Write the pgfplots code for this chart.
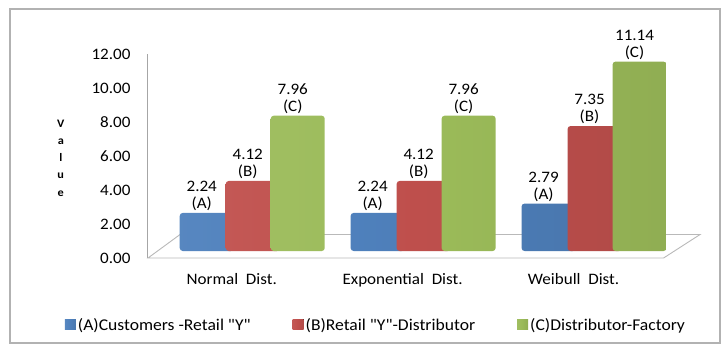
\documentclass[border=0pt]{standalone}
\usepackage{pgfplots}
\pgfplotsset{compat=1.18}
\usepackage{fontspec}
\setmainfont{Carlito}[FakeStretch=1.07, Ligatures=TeXOff]
\definecolor{cA}{HTML}{4F81BD}
\definecolor{cB}{HTML}{C0504D}
\definecolor{cC}{HTML}{9BBB59}
\pgfdeclarehorizontalshading{shA}{100bp}{color(0bp)=(cA!90!white); color(45bp)=(cA); color(78bp)=(cA!92!black); color(80bp)=(cA!58!black); color(100bp)=(cA!58!black)}
\pgfdeclarehorizontalshading{shB}{100bp}{color(0bp)=(cB!90!white); color(45bp)=(cB); color(78bp)=(cB!92!black); color(80bp)=(cB!58!black); color(100bp)=(cB!58!black)}
\pgfdeclarehorizontalshading{shC}{100bp}{color(0bp)=(cC!90!white); color(45bp)=(cC); color(78bp)=(cC!92!black); color(80bp)=(cC!55!black); color(100bp)=(cC!55!black)}
\begin{document}
\begin{tikzpicture}[x=1bp,y=1bp]
\begin{axis}[
  name=ax,
  scale only axis, width=552bp, height=204bp,
  ymin=0, ymax=12, ytick={0,2,...,12},
  xmin=-0.49, xmax=2.74, xtick={0,1,2},
  xticklabels={Normal\ \ Dist., Exponential\ \ Dist., Weibull\ \ Dist.},
  axis x line*=bottom, axis y line*=left,
  axis line style={gray!70, line width=1bp},
  x axis line style={draw=none},
  major tick length=0pt,
  yticklabel style={/pgf/number format/.cd, fixed, fixed zerofill, precision=2, /tikz/.cd, xshift=-14bp},
  /pgf/number format/assume math mode=true,
  xticklabel style={yshift=-12bp},
  ticklabel style={font=\fontsize{16}{18}\selectfont},
  ylabel={V\\a\\l\\u\\e},
  ylabel style={rotate=-90, align=center, font=\bfseries\fontsize{11.5}{17.3}\selectfont, at={(axis description cs:-0.158,0.49)}, anchor=center},
  ybar=0pt, bar width=54bp,
  nodes near coords style={align=center, font=\fontsize{16}{17}\selectfont, text=black, inner sep=2bp, xshift=-5bp},
  legend style={draw=none, at={(0.413,-0.33)}, anchor=center, legend columns=3,
    font=\fontsize{16.5}{18}\selectfont, /tikz/every even column/.append style={column sep=40bp}},
  legend image code/.code={\fill[#1, sharp corners, yshift=-7bp] (0bp,-4bp) rectangle (11bp,6bp);},
  clip=false,
]
\draw[gray!55, line width=0.9bp, fill=white] (rel axis cs:0,0) -- (rel axis cs:0.934,0) -- (rel axis cs:1.0,0.115) -- (rel axis cs:0.058,0.115) -- cycle;
\addplot[shading=shA, draw=none, rounded corners=3bp, bar shift=-25bp, yshift=7bp,
  nodes near coords={\pgfmathprintnumber[fixed,fixed zerofill,precision=2]{\pgfplotspointmeta}\\(A)}]
  coordinates {(0,2.24) (1,2.24) (2,2.79)};
\addplot[shading=shB, draw=none, rounded corners=3bp, bar shift=21bp, yshift=7bp,
  nodes near coords={\pgfmathprintnumber[fixed,fixed zerofill,precision=2]{\pgfplotspointmeta}\\(B)}]
  coordinates {(0,4.12) (1,4.12) (2,7.35)};
\addplot[shading=shC, draw=none, rounded corners=3bp, bar shift=66bp, yshift=7bp,
  nodes near coords={\pgfmathprintnumber[fixed,fixed zerofill,precision=2]{\pgfplotspointmeta}\\(C)}]
  coordinates {(0,7.96) (1,7.96) (2,11.14)};
\legend{(A)Customers -Retail "Y", (B)Retail "Y"-Distributor, (C)Distributor-Factory}
\end{axis}
\draw[gray!60, line width=1.2bp] ([shift={(-138,-85)}]ax.south west) rectangle ++(710,334);
\pgfresetboundingbox
\path ([shift={(-148,-86)}]ax.south west) rectangle ++(727,344);
\end{tikzpicture}
\end{document}
